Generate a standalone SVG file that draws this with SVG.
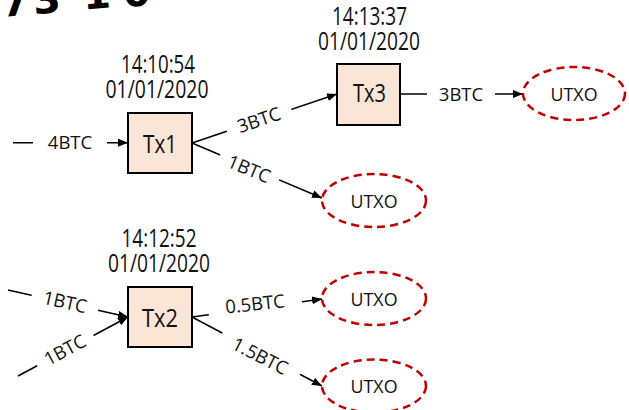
<svg xmlns="http://www.w3.org/2000/svg" width="629" height="410" viewBox="0 0 629 410">
  <style>
    .tx rect { fill: #fbe5d6; stroke: #000; stroke-width: 2; }
    .tx text { font-family: "Open Sans", "Liberation Sans", sans-serif; font-size: 25px; fill: #111; text-anchor: middle; }
    .stamp { font-family: "Open Sans", "Liberation Sans", sans-serif; font-size: 17px; fill: #111; text-anchor: middle; }
    .utxo ellipse { fill: #fff; stroke: #c00000; stroke-width: 2.5; stroke-dasharray: 8 5; }
    .utxo text { font-family: "Open Sans", "Liberation Sans", sans-serif; font-size: 18px; fill: #111; text-anchor: middle; }
    .edge { stroke: #000; stroke-width: 1.5; fill: none; marker-end: url(#arrow); }
    .lbl rect { fill: #fff; }
    .lbl text { font-family: "Open Sans", "Liberation Sans", sans-serif; font-size: 18.5px; fill: #111; text-anchor: middle; }
  </style>
  <defs>
    <marker id="arrow" markerUnits="userSpaceOnUse" markerWidth="10" markerHeight="8" refX="10" refY="4" orient="auto">
      <path d="M0,0 L10,4 L0,8 z" fill="#000"/>
    </marker>
  </defs>

  <rect width="629" height="410" fill="#fff"/>

  <!-- heading fragment running off the top edge -->
  <text transform="rotate(-5 70 12)" font-family="DejaVu Sans, sans-serif" font-weight="bold" font-size="40" fill="#000">
    <tspan x="2" y="11">7</tspan><tspan x="34" y="11">3</tspan><tspan x="84" y="11">1</tspan><tspan x="124" y="12">0</tspan>
  </text>

  <!-- connectors with their amount labels -->
  <g id="connectors">
    <line class="edge" x1="13" y1="142.7" x2="128" y2="142.7"/>
    <line class="edge" x1="192" y1="143" x2="337" y2="94"/>
    <line class="edge" x1="192" y1="143" x2="322" y2="198"/>
    <line class="edge" x1="400" y1="94" x2="523" y2="94"/>
    <line class="edge" x1="8" y1="290" x2="128" y2="317"/>
    <line class="edge" x1="18" y1="376" x2="128" y2="317"/>
    <line class="edge" x1="192" y1="317" x2="322" y2="299"/>
    <line class="edge" x1="192" y1="317" x2="322" y2="386"/>

    <g class="lbl" transform="translate(70 142.7)"><rect x="-37" y="-12" width="74" height="24"/><text y="6.5">4BTC</text></g>
    <g class="lbl" transform="translate(259 120) rotate(-18.7)"><rect x="-34" y="-12" width="68" height="24"/><text y="6.5">3BTC</text></g>
    <g class="lbl" transform="translate(249 169) rotate(22.9)"><rect x="-32" y="-12" width="64" height="24"/><text y="6.5">1BTC</text></g>
    <g class="lbl" transform="translate(461 94)"><rect x="-34" y="-12" width="68" height="24"/><text y="6.5">3BTC</text></g>
    <g class="lbl" transform="translate(65 302) rotate(12.7)"><rect x="-34" y="-12" width="68" height="24"/><text y="6.5">1BTC</text></g>
    <g class="lbl" transform="translate(65 350) rotate(-28.2)"><rect x="-32" y="-12" width="64" height="24"/><text y="6.5">1BTC</text></g>
    <g class="lbl" transform="translate(255 304) rotate(-6)"><rect x="-47" y="-13" width="94" height="26"/><text y="6.5">0.5BTC</text></g>
    <g class="lbl" transform="translate(260 356) rotate(27)"><rect x="-44" y="-13" width="88" height="26"/><text y="6.5">1.5BTC</text></g>
  </g>

  <!-- transactions -->
  <g id="tx1" class="tx">
    <text class="stamp" x="158" y="73" textLength="74" lengthAdjust="spacingAndGlyphs">14:10:54</text>
    <text class="stamp" x="157" y="97.5" textLength="103" lengthAdjust="spacingAndGlyphs">01/01/2020</text>
    <rect x="128" y="113" width="64" height="60"/>
    <text x="160" y="152.5" textLength="34" lengthAdjust="spacingAndGlyphs">Tx1</text>
  </g>
  <g id="tx3" class="tx">
    <text class="stamp" x="369.5" y="24.5" textLength="75" lengthAdjust="spacingAndGlyphs">14:13:37</text>
    <text class="stamp" x="369" y="49.5" textLength="102" lengthAdjust="spacingAndGlyphs">01/01/2020</text>
    <rect x="337" y="64" width="63" height="61"/>
    <text x="369.5" y="102" textLength="33" lengthAdjust="spacingAndGlyphs">Tx3</text>
  </g>
  <g id="tx2" class="tx">
    <text class="stamp" x="159" y="246.5" textLength="75" lengthAdjust="spacingAndGlyphs">14:12:52</text>
    <text class="stamp" x="159" y="271.5" textLength="102" lengthAdjust="spacingAndGlyphs">01/01/2020</text>
    <rect x="128" y="287" width="64" height="60"/>
    <text x="160" y="327" textLength="36" lengthAdjust="spacingAndGlyphs">Tx2</text>
  </g>

  <!-- unspent outputs -->
  <g id="utxo-tx3" class="utxo">
    <ellipse cx="574" cy="93.5" rx="51" ry="26.5"/>
    <text x="574" y="100.5" textLength="47" lengthAdjust="spacingAndGlyphs">UTXO</text>
  </g>
  <g id="utxo-tx1" class="utxo">
    <ellipse cx="374" cy="200.5" rx="52" ry="26.5"/>
    <text x="374" y="207.5" textLength="47" lengthAdjust="spacingAndGlyphs">UTXO</text>
  </g>
  <g id="utxo-tx2a" class="utxo">
    <ellipse cx="374" cy="298.5" rx="52" ry="26.5"/>
    <text x="374" y="305.5" textLength="47" lengthAdjust="spacingAndGlyphs">UTXO</text>
  </g>
  <g id="utxo-tx2b" class="utxo">
    <ellipse cx="374" cy="386" rx="52" ry="26.5"/>
    <text x="374" y="393" textLength="47" lengthAdjust="spacingAndGlyphs">UTXO</text>
  </g>
</svg>
